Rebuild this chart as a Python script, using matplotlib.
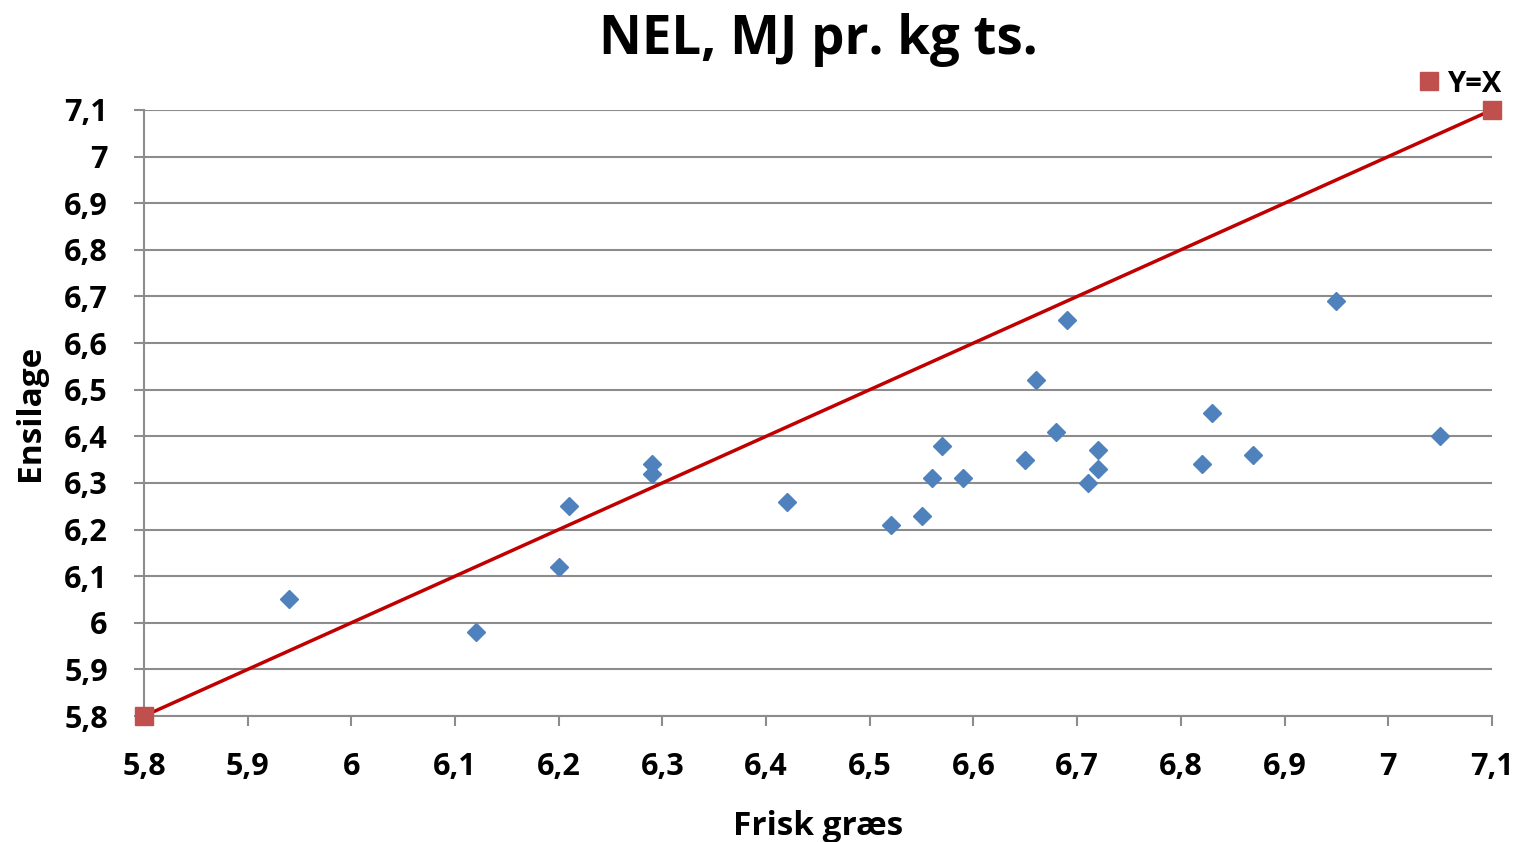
import matplotlib.pyplot as plt
from matplotlib.lines import Line2D

plt.rcParams['font.family'] = ['Open Sans', 'DejaVu Sans']
plt.rcParams['font.weight'] = 'bold'

# data
frisk = [5.94, 6.12, 6.20, 6.21, 6.29, 6.29, 6.42, 6.52, 6.55, 6.56, 6.57, 6.59,
         6.65, 6.66, 6.68, 6.69, 6.71, 6.72, 6.72, 6.82, 6.83, 6.87, 6.95, 7.05]
ensilage = [6.05, 5.98, 6.12, 6.25, 6.34, 6.32, 6.26, 6.21, 6.23, 6.31, 6.38, 6.31,
            6.35, 6.52, 6.41, 6.65, 6.30, 6.37, 6.33, 6.34, 6.45, 6.36, 6.69, 6.40]
yx_x = [5.8, 7.1]
yx_y = [5.8, 7.1]
ticks = [5.8, 5.9, 6.0, 6.1, 6.2, 6.3, 6.4, 6.5, 6.6, 6.7, 6.8, 6.9, 7.0, 7.1]
tick_labels = ['5,8', '5,9', '6', '6,1', '6,2', '6,3', '6,4', '6,5', '6,6', '6,7',
               '6,8', '6,9', '7', '7,1']

fig = plt.figure(figsize=(15.28, 8.42), dpi=100)
ax = fig.add_axes([0.0942, 0.1496, 0.8822, 0.7198])

grid_c = '#8c8c8c'
ax.set_xlim(5.8, 7.1)
ax.set_ylim(5.8, 7.1)
ax.set_yticks(ticks)
ax.set_yticklabels(tick_labels, fontweight='bold')
ax.set_xticks(ticks)
ax.set_xticklabels(tick_labels, fontweight='bold')
ax.yaxis.grid(True, color=grid_c, linewidth=1.5)
ax.set_axisbelow(True)
for s in ['top', 'right']:
    ax.spines[s].set_visible(False)
for s in ['left', 'bottom']:
    ax.spines[s].set_color(grid_c)
    ax.spines[s].set_linewidth(1.5)
ax.tick_params(axis='both', colors=grid_c, labelcolor='black', labelsize=22,
               length=7, width=1.5)
ax.tick_params(axis='x', pad=19)
ax.tick_params(axis='y', pad=19)

ax.plot(yx_x, yx_y, color='#C00000', linewidth=2.5, marker='s', markersize=13,
        markerfacecolor='#C0504D', markeredgecolor='#C0504D', clip_on=False, zorder=3)
ax.plot(frisk, ensilage, linestyle='none', marker='D', markersize=9.5,
        color='#4F81BD', zorder=4)

ax.set_title('NEL, MJ pr. kg ts.', fontsize=38, fontweight='bold', pad=40)
ax.set_xlabel('Frisk græs', fontsize=24, fontweight='bold', labelpad=20)
ax.set_ylabel('Ensilage', fontsize=24, fontweight='bold', labelpad=12)

handle = Line2D([], [], linestyle='none', marker='s', markersize=13,
                markerfacecolor='#C0504D', markeredgecolor='#C0504D')
ax.legend([handle], ['Y=X'], loc='lower right', bbox_to_anchor=(1.022, 0.985),
          frameon=False, fontsize=21, handletextpad=0.1, borderpad=0.2,
          handlelength=1.0)

fig.savefig('out.png', dpi=100)
